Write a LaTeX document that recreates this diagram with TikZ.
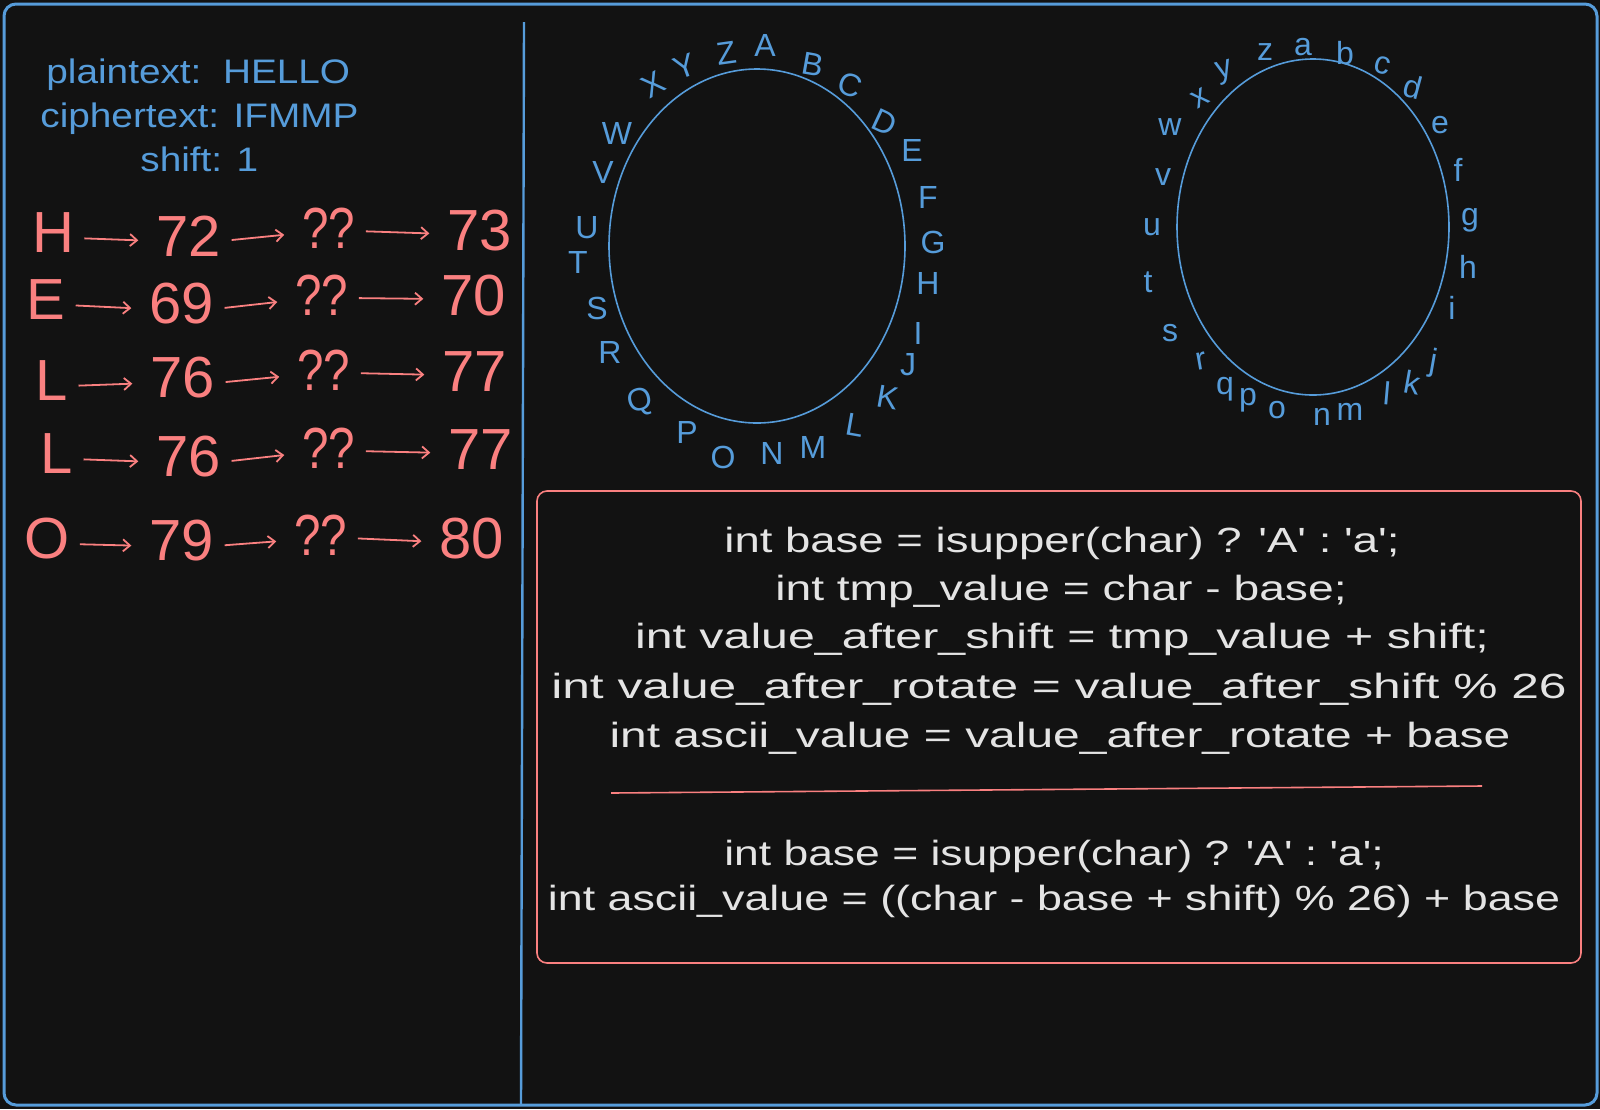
\documentclass[tikz,border=0pt]{standalone}
\usepackage{fontspec}
\setmainfont{Liberation Sans}
\usetikzlibrary{arrows.meta,shapes.geometric}
\definecolor{bgc}{RGB}{18,18,18}
\definecolor{blu}{RGB}{86,156,218}
\definecolor{rd}{RGB}{250,128,128}
\definecolor{codec}{RGB}{228,228,228}
\newcommand{\wx}[2]{\scalebox{#1}[1]{#2}}
\newcommand{\qq}{\wx{0.82}{??}}
\newcommand{\sq}{\textquotesingle}
\begin{document}
\begin{tikzpicture}[x=0.5pt,y=-0.5pt,
  frame/.style={draw=blu, line width=1.5pt, rounded corners=6pt},
  divider/.style={draw=blu, line width=1.2pt},
  bluetxt/.style={text=blu, font=\fontsize{17}{20}\selectfont, inner sep=0pt, anchor=base west},
  rowtxt/.style={text=rd, font=\fontsize{29}{32}\selectfont, inner sep=0pt},
  rarr/.style={draw=rd, line width=0.9pt, -{Straight Barb[length=3.5pt,width=6pt]}, shorten <=5pt, shorten >=9pt},
  ringtxt/.style={text=blu, font=\fontsize{16}{18}\selectfont, inner sep=0pt},
  ringline/.style={draw=blu, line width=0.8pt, ellipse, inner sep=0pt},
  codebox/.style={draw=rd, line width=0.8pt, rounded corners=5pt, minimum width=522pt, minimum height=236pt, inner sep=0pt},
  codetxt/.style={text=codec, font=\fontsize{17.5}{24.5}\selectfont, inner sep=0pt, anchor=base},
  sepline/.style={draw=rd, line width=0.8pt},
]
\fill[bgc] (0,0) rectangle (1600,1109);
\path[use as bounding box] (0,0) rectangle (1600,1109);
\draw[frame] (4,4) rectangle (1597,1105);
\draw[divider] (524,22) -- (521,1105);

% header
\node[bluetxt] (pt) at (46,83) {\wx{1.14}{plaintext:\ \ HELLO}};
\node[bluetxt] (ct) at (40,127) {\wx{1.14}{ciphertext: IFMMP}};
\node[bluetxt] (sh) at (140,171) {\wx{1.14}{shift: 1}};

% rows
\node[rowtxt] (r1a) at (53,233) {H};
\node[rowtxt] (r1b) at (189,236) {72};
\node[rowtxt] (r1c) at (329,228) {\qq};
\node[rowtxt] (r1d) at (480,231) {73};
\node[rowtxt] (r2a) at (46,300) {E};
\node[rowtxt] (r2b) at (182,304) {69};
\node[rowtxt] (r2c) at (322,295) {\qq};
\node[rowtxt] (r2d) at (474,296) {70};
\node[rowtxt] (r3a) at (52,381) {L};
\node[rowtxt] (r3b) at (183,378) {76};
\node[rowtxt] (r3c) at (324,370) {\qq};
\node[rowtxt] (r3d) at (475,372) {77};
\node[rowtxt] (r4a) at (57,454) {L};
\node[rowtxt] (r4b) at (189,457) {76};
\node[rowtxt] (r4c) at (329,448) {\qq};
\node[rowtxt] (r4d) at (481,450) {77};
\node[rowtxt] (r5a) at (47,539) {O};
\node[rowtxt] (r5b) at (182,541) {79};
\node[rowtxt] (r5c) at (321,535) {\qq};
\node[rowtxt] (r5d) at (472,539) {80};
\foreach \r in {1,...,5}{
  \draw[rarr] ([yshift=-2.5pt]r\r a.east) -- ([yshift=-2.5pt]r\r b.west);
  \draw[rarr] ([yshift=-2.5pt]r\r b.east) -- ([yshift=-2.5pt]r\r c.west);
  \draw[rarr] ([yshift=-1.5pt]r\r c.east) -- ([yshift=-1.5pt]r\r d.west);
}

% upper-case ring
\node[ringline, minimum width=148pt, minimum height=177pt] (ringU) at (757,246) {};
\foreach \l/\x/\y/\a in {A/765/45/0, B/813/65/-10, C/850/85/-20, D/885/122/-25,
  E/912/150/0, F/928/197/0, G/933/242/0, H/928/283/0, I/918/333/0, J/908/365/0,
  K/888/398/-10, L/855/425/-10, M/813/447/0, N/772/453/0, O/723/457/0, P/687/432/0,
  Q/640/402/15, R/610/352/0, S/597/308/0, T/578/262/0, U/587/228/0, V/603/172/0,
  W/617/133/0, X/653/85/30, Y/685/67/20, Z/727/53/8}{
  \node[ringtxt, rotate=\a] (U\l) at (\x,\y) {\l};
}

% lower-case ring
\node[ringline, minimum width=136pt, minimum height=168pt] (ringL) at (1313,227) {};
\foreach \l/\x/\y/\a in {a/1303/47/0, b/1345/53/0, c/1382/65/-15, d/1413/87/-15,
  e/1440/125/0, f/1458/170/0, g/1470/220/0, h/1468/267/0, i/1452/308/0,
  j/1433/363/-10, k/1412/382/-10, l/1387/393/-5, m/1350/412/0, n/1322/417/0,
  o/1277/410/0, p/1248/400/0, q/1225/389/0, r/1201/361/10, s/1170/333/0,
  t/1148/282/0, u/1152/227/0, v/1163/177/0, w/1170/127/0, x/1200/98/30,
  y/1225/72/15, z/1265/52/0}{
  \node[ringtxt, rotate=\a] (L\l) at (\x,\y) {\l};
}

% code box
\node[codebox] (box) at (1059,727) {};
\node[codetxt] (c1) at (1062,552) {\wx{1.30}{int base = isupper(char) ? \sq A\sq\ : \sq a\sq;}};
\node[codetxt] (c2) at (1061,600) {\wx{1.32}{int tmp\_value = char - base;}};
\node[codetxt] (c3) at (1062,648) {\wx{1.38}{int value\_after\_shift = tmp\_value + shift;}};
\node[codetxt] (c4) at (1059,698) {\wx{1.42}{int value\_after\_rotate = value\_after\_shift \% 26}};
\node[codetxt] (c5) at (1060,747) {\wx{1.37}{int ascii\_value = value\_after\_rotate + base}};
\coordinate (sepA) at (611,793);
\coordinate (sepB) at (1482,786);
\draw[sepline] (sepA) -- (sepB);
\node[codetxt] (c6) at (1054,865) {\wx{1.27}{int base = isupper(char) ? \sq A\sq\ : \sq a\sq;}};
\node[codetxt] (c7) at (1054,910) {\wx{1.28}{int ascii\_value = ((char - base + shift) \% 26) + base}};
\end{tikzpicture}
\end{document}
